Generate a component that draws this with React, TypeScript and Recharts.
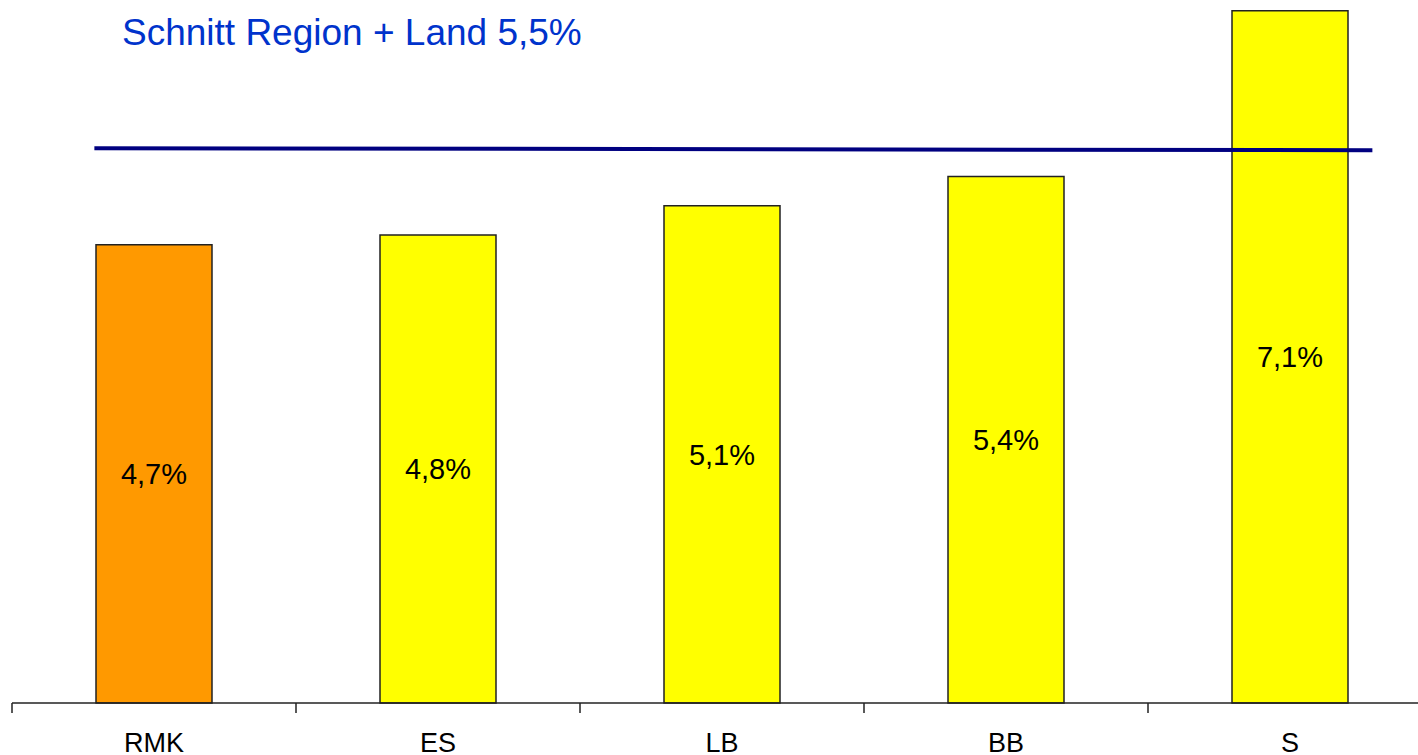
import React from 'react';
import { BarChart, Bar, XAxis, YAxis, Cell, LabelList, ReferenceLine } from 'recharts';

const categories = ['RMK', 'ES', 'LB', 'BB', 'S'];
const rates = [4.7, 4.8, 5.1, 5.4, 7.1];
const highlighted = 'RMK';
const averageLabel = 'Schnitt Region + Land 5,5%';
// where the average line starts/ends (category units) and its height there
const avgLineX = [0.29, 4.79];
const avgLineY = [5.69, 5.67];
// tick marks sit on category boundaries, names in the middle of each band
const axisTicks = [0, 0.5, 1, 1.5, 2, 2.5, 3, 3.5, 4, 4.5, 5];

const FONT = '"Liberation Sans", Arial, sans-serif';

const data = categories.map((name, i) => ({ name, pos: i + 0.5, rate: rates[i] }));

const formatPct = (v: number) => `${v.toFixed(1).replace('.', ',')}%`;

const AxisTick = ({ x, y, payload }: any) => {
  const v = Number(payload.value);
  if (Number.isInteger(v)) {
    return <line x1={x} x2={x} y1={y - 10} y2={y} stroke="#222" strokeWidth={1.5} />;
  }
  return (
    <text x={x} y={y + 39} textAnchor="middle" fontSize={27} fill="#000" fontFamily={FONT}>
      {categories[Math.floor(v)]}
    </text>
  );
};

const App: React.FC = () => {
  return (
    <div
      style={{
        position: 'absolute',
        left: 0,
        top: 0,
        width: 1418,
        height: 755,
        overflow: 'hidden',
        background: '#fff',
        fontFamily: FONT,
      }}
    >
      <div
        style={{
          position: 'absolute',
          left: 122,
          top: 14,
          fontSize: 37,
          lineHeight: 1,
          color: '#0033cc',
          whiteSpace: 'nowrap',
        }}
      >
        {averageLabel}
      </div>
      <BarChart
        width={1454}
        height={755}
        data={data}
        margin={{ top: 1, right: 22, left: 12, bottom: 0 }}
        style={{ fontFamily: FONT }}
      >
        <XAxis
          xAxisId="num"
          dataKey="pos"
          type="number"
          domain={[0, 5]}
          ticks={axisTicks}
          interval={0}
          tick={<AxisTick />}
          tickLine={false}
          tickSize={10}
          tickMargin={0}
          height={52}
          stroke="#222"
          strokeWidth={1.5}
          allowDataOverflow
        />
        <XAxis xAxisId="cat" dataKey="name" hide height={0} />
        <YAxis hide domain={[0, 7.2]} />
        <Bar
          xAxisId="cat"
          dataKey="rate"
          barSize={116}
          stroke="#222"
          strokeWidth={1.5}
          isAnimationActive={false}
        >
          {data.map((d) => (
            <Cell key={d.name} fill={d.name === highlighted ? '#ff9900' : '#ffff00'} />
          ))}
          <LabelList
            dataKey="rate"
            position="center"
            formatter={(v: any) => formatPct(Number(v))}
            style={{ fontSize: 29, fill: '#000', fontFamily: FONT }}
          />
        </Bar>
        <ReferenceLine
          xAxisId="num"
          segment={[
            { x: avgLineX[0], y: avgLineY[0] },
            { x: avgLineX[1], y: avgLineY[1] },
          ]}
          stroke="#000080"
          strokeWidth={4}
        />
      </BarChart>
    </div>
  );
};

export default App;
